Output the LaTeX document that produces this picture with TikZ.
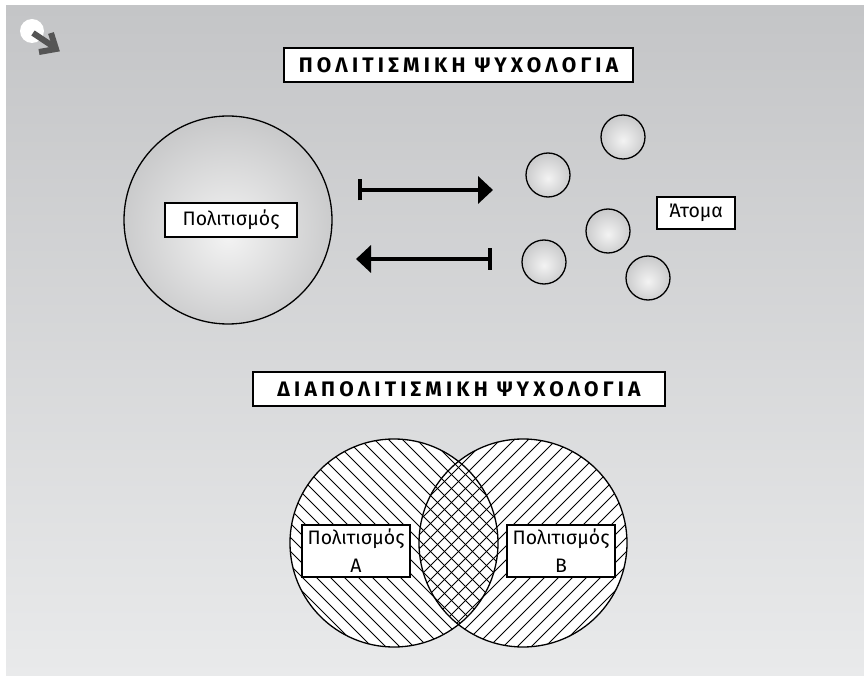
\documentclass[tikz,border=0pt]{standalone}
\usepackage{fontspec}
\setmainfont{Fira Sans}
\newfontfamily\titlefont[LetterSpace=20]{Fira Sans}
\usepackage{tikz}
\usetikzlibrary{arrows.meta}
\usetikzlibrary{shadings}
\definecolor{bgtop}{HTML}{C4C5C7}
\definecolor{bgbot}{HTML}{E9EAEB}
\definecolor{ballin}{HTML}{F3F3F3}
\definecolor{ballout}{HTML}{A3A4A6}
\definecolor{icongray}{HTML}{555555}
\pgfdeclareradialshading{bubble}{\pgfpoint{0bp}{-4bp}}{color(0bp)=(ballin); color(50bp)=(ballout)}

\begin{document}
\begin{tikzpicture}[x=1pt,y=-1pt,
	box/.style={draw, fill=white, line width=1.2pt, inner sep=0pt, align=center},
	title/.style={box, minimum height=34pt, font=\titlefont\bfseries\fontsize{21}{24}\selectfont},
	lab/.style={box, font=\fontsize{19.5}{28}\selectfont},
	ball/.style={circle, draw, line width=1.3pt, shade, shading=bubble, inner sep=0pt},
	flow/.style={line width=4pt, {Bar[width=21pt]}-{Triangle[length=15pt,width=27pt]}},
	hatch/.style={line width=1pt}]
	\useasboundingbox (0,0) rectangle (864,676);
	\shade[top color=bgtop, bottom color=bgbot] (6,6) rectangle (864,676);
	\fill[white] (32,31) circle (12pt);
	\draw[line width=6pt, icongray] (33,33) -- (54,47);
	\draw[line width=6pt, icongray, line join=miter] (51,33) -- (56,49) -- (39,52);
	\node[title, minimum width=349pt] (t1) at (458.5,65) {ΠΟΛΙΤΙΣΜΙΚΗ ΨΥΧΟΛΟΓΙΑ};
	\node[ball, minimum size=208pt] (world) at (228,220) {};
	\node[lab, minimum width=132pt, minimum height=34pt] (cul) at (231,220) {Πολιτισμός};
	\node[ball, minimum size=44pt] (p1) at (623,137) {};
	\node[ball, minimum size=44pt] (p2) at (548,175) {};
	\node[ball, minimum size=44pt] (p3) at (608,231) {};
	\node[ball, minimum size=44pt] (p4) at (544,262) {};
	\node[ball, minimum size=44pt] (p5) at (648,278) {};
	\node[lab, minimum width=78pt, minimum height=32pt] (ind) at (696,213) {Άτομα};
	\coordinate (a1) at (358,190);
	\coordinate (a2) at (493,190);
	\coordinate (b1) at (492,259);
	\coordinate (b2) at (356,259);
	\draw[flow] (a1) -- (a2);
	\draw[flow] (b1) -- (b2);
	\node[title, minimum width=412pt] (t2) at (459,389) {ΔΙΑΠΟΛΙΤΙΣΜΙΚΗ ΨΥΧΟΛΟΓΙΑ};
	\coordinate (ca) at (394,543);
	\coordinate (cb) at (523,543);
	\fill[white] (ca) circle (104pt);
	\fill[white] (cb) circle (104pt);
	\begin{scope}
		\clip (ca) circle (104pt);
		\foreach \k in {-11,...,11}
			\draw[hatch] ([shift={(\k*14-110,-110)}]ca) -- ++(220,220);
	\end{scope}
	\begin{scope}
		\clip (cb) circle (104pt);
		\foreach \k in {-11,...,11}
			\draw[hatch] ([shift={(\k*14-110,110)}]cb) -- ++(220,-220);
	\end{scope}
	\draw[line width=1.3pt] (ca) circle (104pt);
	\draw[line width=1.3pt] (cb) circle (104pt);
	\node[lab, minimum width=108pt, minimum height=52pt] (ca lab) at (356,551) {Πολιτισμός\\A};
	\node[lab, minimum width=108pt, minimum height=52pt] (cb lab) at (561,551) {Πολιτισμός\\B};
\end{tikzpicture}
\end{document}
